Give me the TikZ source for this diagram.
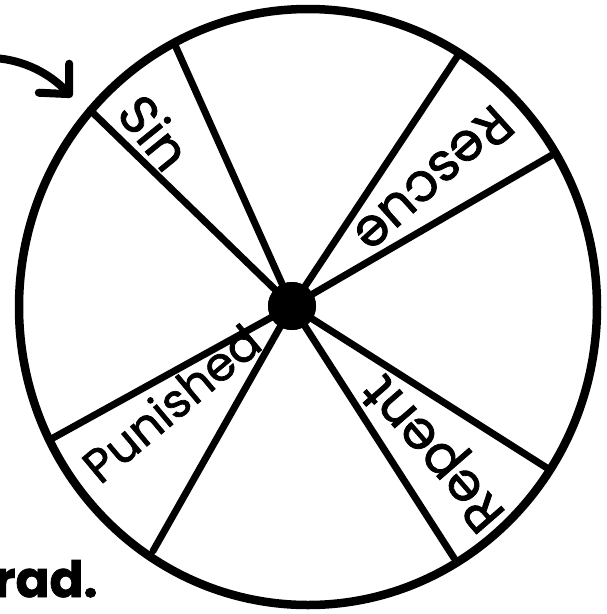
\documentclass[tikz,border=0pt]{standalone}
\usepackage{fontspec}
\newfontfamily\handfont[FakeBold=1.5]{Poppins}
\usetikzlibrary{arrows.meta}
\tikzset{
  rimLine/.style    = {line width=8.5pt},
  spokeLine/.style  = {line width=7pt, line cap=round},
  hubDot/.style     = {circle, fill=black, minimum size=48pt, inner sep=0pt},
  wedgeLabel/.style = {font=\handfont\fontsize{53}{53}\selectfont, inner sep=0pt},
  pointerArrow/.style = {line width=8pt, line cap=round,
                         -{Straight Barb[round, length=22pt, width=42pt]}},
}

\begin{document}
\begin{tikzpicture}[x=1pt,y=-1pt]
  \useasboundingbox (0,0) rectangle (607,614);
  % wheel
  \draw[rimLine] (308,307) ellipse [x radius=289, y radius=298];
  \node[hubDot] (hub) at (292,306) {};
  \foreach \n/\x/\y in {1/90/110, 2/175/45, 3/457/57, 4/552/155,
                        5/547/468, 6/454/558, 7/153/551, 8/53/438}
    {\coordinate (s\n) at (\x,\y);
     \draw[spokeLine] (hub.center) -- (s\n);}
  \node[hubDot] at (hub) {};
  % sector labels
  \node[wedgeLabel, rotate=-51] (sin)      at (155,132) {Sin};
  \node[wedgeLabel, rotate=222] (rescue)   at (434,180) {Rescue};
  \node[wedgeLabel, rotate=131] (repent)   at (437,450) {Repent};
  \node[wedgeLabel, rotate=40, font=\handfont\fontsize{47}{47}\selectfont]
    (punished) at (171,403) {Punished};
  % pointer and side note
  \coordinate (tail) at (-6,58);
  \coordinate (tip) at (72,97);
  \draw[pointerArrow] (tail) .. controls (25,60) and (50,74) .. (tip);
  \node[font=\handfont\bfseries\fontsize{50}{50}\selectfont, anchor=base west,
        inner sep=0pt] (rad) at (-6,597) {rad.};
\end{tikzpicture}
\end{document}
